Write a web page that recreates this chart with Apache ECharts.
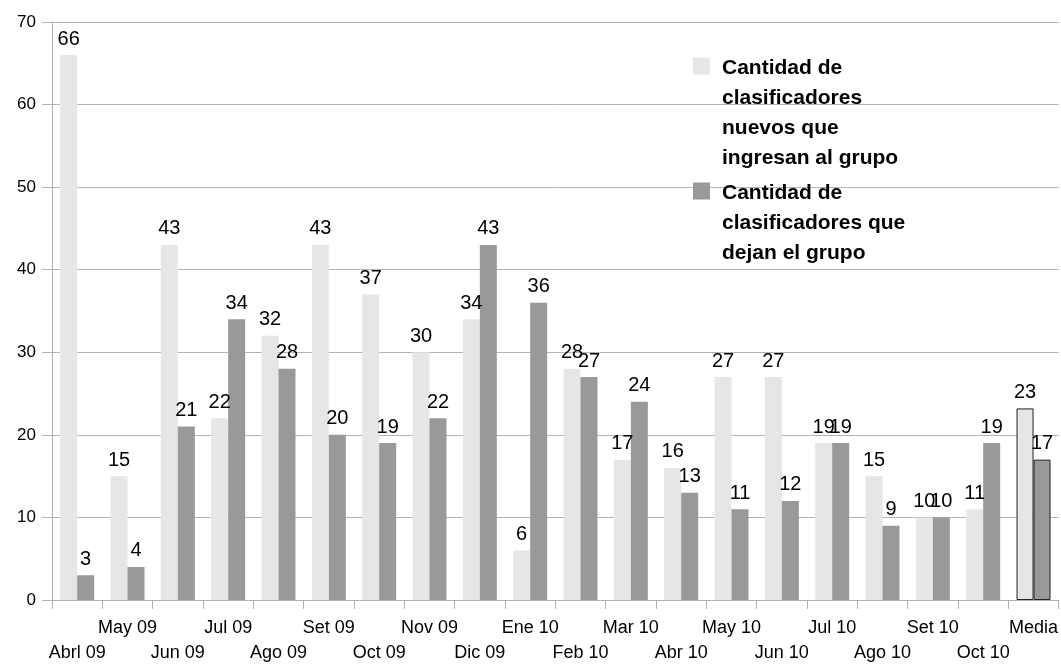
<!DOCTYPE html>
<html>
<head>
<meta charset="utf-8">
<script src="https://cdn.jsdelivr.net/npm/echarts@6/dist/echarts.min.js"></script>
<style>html,body{margin:0;padding:0;background:#fff;}#c{width:1061px;height:666px;}</style>
</head>
<body>
<div id="c"></div>
<script>
const categories = ['Abrl 09','May 09','Jun 09','Jul 09','Ago 09','Set 09','Oct 09','Nov 09','Dic 09','Ene 10','Feb 10','Mar 10','Abr 10','May 10','Jun 10','Jul 10','Ago 10','Set 10','Oct 10','Media'];
const nuevos = [66,15,43,22,32,43,37,30,34,6,28,17,16,27,27,19,15,10,11,23.2];
const dejan = [3,4,21,34,28,20,19,22,43,36,27,24,13,11,12,19,9,10,19,17];
const seriesNames = ['Cantidad de\nclasificadores\nnuevos que\ningresan al grupo','Cantidad de\nclasificadores que\ndejan el grupo'];
const yTicks = {min:0, max:70, interval:10};

const FONT = '"Liberation Sans", Arial, sans-serif';
const LIGHT = '#e6e6e6', DARK = '#999999';

function toData(arr, color) {
  return arr.map((v, i) => i === categories.length - 1
    ? {value: v, itemStyle: {color: color, borderColor: '#222', borderWidth: 1}}
    : v);
}

const chart = echarts.init(document.getElementById('c'), null, {renderer: 'canvas'});
const labelCfg = {show: true, position: 'top', distance: 6, color: '#000', fontFamily: FONT, fontSize: 20,
  formatter: p => Math.round(p.value)};

chart.setOption({
  animation: false,
  backgroundColor: '#fff',
  grid: {left: 52, right: 1, top: 22, bottom: 63, containLabel: false},
  legend: [
    {data: [seriesNames[0]], left: 693, top: 53, orient: 'vertical', padding: 0,
     itemWidth: 24, itemHeight: 111, icon: 'path://M0,0h17v17h-17z M0,111h24',
     textStyle: {fontFamily: FONT, fontSize: 21, fontWeight: 'bold', color: '#000', lineHeight: 30}},
    {data: [seriesNames[1]], left: 693, top: 178, orient: 'vertical', padding: 0,
     itemWidth: 24, itemHeight: 81, icon: 'path://M0,0h17v17h-17z M0,81h24',
     textStyle: {fontFamily: FONT, fontSize: 21, fontWeight: 'bold', color: '#000', lineHeight: 30}}
  ],
  xAxis: {
    type: 'category', data: categories, boundaryGap: true,
    axisLine: {lineStyle: {color: '#b3b3b3', width: 1}},
    axisTick: {show: true, length: 9, alignWithLabel: false, interval: 0, lineStyle: {color: '#b3b3b3'}},
    axisLabel: {interval: 0, margin: 16, color: '#000', fontFamily: FONT, fontSize: 18, lineHeight: 25,
      formatter: (v, i) => (i % 2 === 0 ? '\n' + v : v)},
    splitLine: {show: false}
  },
  yAxis: {
    type: 'value', min: yTicks.min, max: yTicks.max, interval: yTicks.interval,
    axisLine: {show: true, lineStyle: {color: '#b3b3b3'}},
    axisTick: {show: true, length: 10, lineStyle: {color: '#b3b3b3'}},
    axisLabel: {margin: 16, color: '#000', fontFamily: FONT, fontSize: 17},
    splitLine: {show: true, lineStyle: {color: '#b3b3b3', width: 1}}
  },
  series: [
    {name: seriesNames[0], type: 'bar', data: toData(nuevos, LIGHT), barWidth: 17, barGap: '0%',
     itemStyle: {color: LIGHT}, label: labelCfg},
    {name: seriesNames[1], type: 'bar', data: toData(dejan, DARK), barWidth: 17, barGap: '0%',
     itemStyle: {color: DARK}, label: labelCfg}
  ]
});
</script>
</body>
</html>
